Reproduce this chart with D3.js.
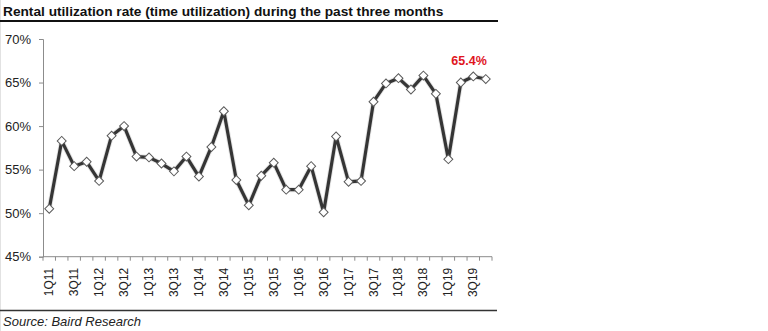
<!DOCTYPE html>
<html>
<head>
<meta charset="utf-8">
<script src="https://cdn.jsdelivr.net/npm/d3@7"></script>
<style>
  html, body { margin: 0; padding: 0; background: #fff; }
  svg { display: block; font-family: Arial, "Liberation Sans", sans-serif; }
</style>
</head>
<body>
<svg id="chart" width="768" height="331"></svg>
<script>
// Quarterly rental time-utilization, 1Q11 through 4Q19 (percent)
const quarters = [
  "1Q11","2Q11","3Q11","4Q11","1Q12","2Q12","3Q12","4Q12",
  "1Q13","2Q13","3Q13","4Q13","1Q14","2Q14","3Q14","4Q14",
  "1Q15","2Q15","3Q15","4Q15","1Q16","2Q16","3Q16","4Q16",
  "1Q17","2Q17","3Q17","4Q17","1Q18","2Q18","3Q18","4Q18",
  "1Q19","2Q19","3Q19","4Q19"
];
const utilization = [
  50.5, 58.3, 55.4, 55.9, 53.7, 58.9, 60.0, 56.5,
  56.4, 55.7, 54.8, 56.5, 54.2, 57.6, 61.7, 53.8,
  50.9, 54.3, 55.8, 52.7, 52.7, 55.4, 50.1, 58.8,
  53.6, 53.7, 62.8, 64.9, 65.5, 64.2, 65.8, 63.7,
  56.2, 65.0, 65.7, 65.4
];
const xTickLabels = quarters.filter((q, i) => i % 2 === 0);
const yTicks = [45, 50, 55, 60, 65, 70];
const titleText = "Rental utilization rate (time utilization) during the past three months";
const sourceText = "Source: Baird Research";

const svg = d3.select("#chart");
const plot = { left: 43, right: 492, top: 39, bottom: 256.7 };

const x = d3.scaleBand().domain(quarters).range([plot.left, plot.right]).padding(0);
const xIdx = d3.scaleLinear().domain([0, quarters.length]).range([plot.left, plot.right]);
const y = d3.scaleLinear().domain([45, 70]).range([plot.bottom, plot.top]);
const cx = q => x(q) + x.bandwidth() / 2;

// faint page edge
svg.append("line").attr("x1", 0.5).attr("x2", 0.5).attr("y1", 0).attr("y2", 331)
  .attr("stroke", "#e2e2e2").attr("stroke-width", 1);

// title and rules
svg.append("text").attr("x", 3).attr("y", 16)
  .attr("font-size", "13.7px").attr("font-weight", "bold").attr("fill", "#111")
  .text(titleText);
svg.append("line").attr("x1", 0).attr("x2", 498).attr("y1", 21).attr("y2", 21)
  .attr("stroke", "#111").attr("stroke-width", 2);
svg.append("line").attr("x1", 0).attr("x2", 497).attr("y1", 310.5).attr("y2", 310.5)
  .attr("stroke", "#333").attr("stroke-width", 1.3);
svg.append("text").attr("x", 3).attr("y", 326)
  .attr("font-size", "13px").attr("font-style", "italic").attr("fill", "#222")
  .text(sourceText);

// y axis
const yAxis = svg.append("g").attr("transform", `translate(${plot.left},0)`)
  .call(d3.axisLeft(y).tickValues(yTicks).tickFormat(d => d + "%").tickSize(4).tickPadding(8));
yAxis.select(".domain").attr("stroke", "#8c8c8c");
yAxis.selectAll(".tick line").attr("stroke", "#8c8c8c");
yAxis.selectAll(".tick text").attr("font-size", "13px").attr("fill", "#222")
  .attr("font-family", "Arial, 'Liberation Sans', sans-serif");

// x axis: line, boundary ticks, rotated labels
const xg = svg.append("g");
xg.append("line").attr("x1", plot.left).attr("x2", plot.right)
  .attr("y1", plot.bottom).attr("y2", plot.bottom).attr("stroke", "#8c8c8c");
xg.selectAll("line.xt").data(d3.range(quarters.length + 1)).join("line")
  .attr("class", "xt")
  .attr("x1", d => xIdx(d)).attr("x2", d => xIdx(d))
  .attr("y1", plot.bottom).attr("y2", plot.bottom + 4)
  .attr("stroke", "#8c8c8c");
xg.selectAll("text").data(xTickLabels).join("text")
  .attr("transform", d => `translate(${cx(d) + 4},${plot.bottom + 11}) rotate(-90)`)
  .attr("text-anchor", "end")
  .attr("font-size", "12px").attr("fill", "#222")
  .text(d => d);

// series line
const pts = quarters.map((q, i) => ({ q, v: utilization[i] }));
const line = d3.line().x(d => cx(d.q)).y(d => y(d.v));
svg.append("path").datum(pts)
  .attr("d", line).attr("fill", "none")
  .attr("stroke", "#c8c8c8").attr("stroke-width", 5).attr("stroke-linejoin", "round")
  .attr("opacity", 0.5);
svg.append("path").datum(pts)
  .attr("d", line).attr("fill", "none")
  .attr("stroke", "#353535").attr("stroke-width", 3.2).attr("stroke-linejoin", "round");

// diamond markers
const diamond = d3.symbol().type(d3.symbolSquare).size(40);
svg.selectAll("path.mk").data(pts).join("path")
  .attr("class", "mk")
  .attr("d", diamond)
  .attr("transform", d => `translate(${cx(d.q)},${y(d.v)}) rotate(45)`)
  .attr("fill", "#fff").attr("stroke", "#5a5a5a").attr("stroke-width", 1);

// latest value callout
const last = pts[pts.length - 1];
svg.append("text")
  .attr("x", cx(last.q) + 1).attr("y", y(last.v) - 14.5)
  .attr("text-anchor", "end")
  .attr("font-size", "12.5px").attr("font-weight", "bold").attr("fill", "#e0161e")
  .text(last.v.toFixed(1) + "%");
</script>
</body>
</html>
